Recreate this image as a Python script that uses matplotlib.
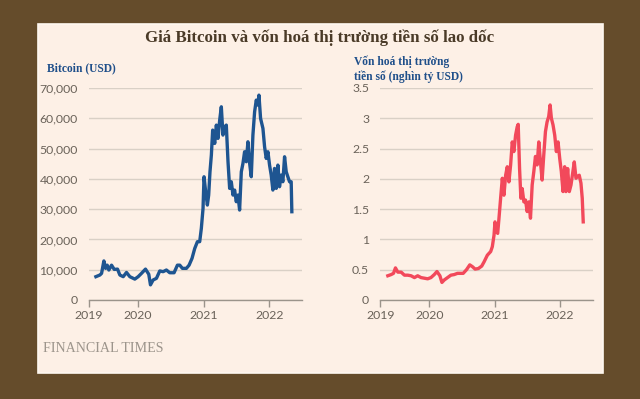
import matplotlib
matplotlib.use("Agg")
import matplotlib.pyplot as plt
from matplotlib.patches import Rectangle

# ---------------- data ----------------
btc_years = [2019.355, 2019.416, 2019.442, 2019.477, 2019.503, 2019.528, 2019.553, 2019.594,
             2019.635, 2019.685, 2019.721, 2019.772, 2019.822, 2019.873, 2019.949, 2020.000,
             2020.051, 2020.112, 2020.162, 2020.188, 2020.228, 2020.279, 2020.330, 2020.381,
             2020.431, 2020.482, 2020.548, 2020.599, 2020.635, 2020.675, 2020.736, 2020.777,
             2020.822, 2020.863, 2020.904, 2020.939, 2020.964, 2020.990, 2021.005, 2021.030,
             2021.056, 2021.076, 2021.096, 2021.117, 2021.137, 2021.168, 2021.193, 2021.218,
             2021.244, 2021.269, 2021.294, 2021.320, 2021.345, 2021.371, 2021.396, 2021.421,
             2021.447, 2021.472, 2021.497, 2021.523, 2021.548, 2021.574, 2021.599, 2021.624,
             2021.650, 2021.675, 2021.701, 2021.726, 2021.751, 2021.777, 2021.802, 2021.827,
             2021.843, 2021.868, 2021.904, 2021.929, 2021.954, 2021.980, 2022.005, 2022.030,
             2022.056, 2022.081, 2022.107, 2022.132, 2022.157, 2022.183, 2022.208, 2022.234,
             2022.259, 2022.284, 2022.310, 2022.335, 2022.345]
btc_price = [7700, 8250, 8800, 12900, 10450, 11500, 9900, 11500,
             10100, 10200, 8250, 7700, 9100, 7700, 6900, 7700,
             8800, 10200, 8500, 5000, 6600, 7150, 9600, 9350,
             9900, 9000, 9000, 11500, 11500, 10450, 10450, 11500,
             13750, 17000, 19250, 19250, 23650, 30250, 40700, 35750,
             31350, 34650, 42350, 47850, 56100, 51700, 57750, 53350,
             59400, 63800, 54450, 57200, 57750, 45650, 36850, 39050,
             34650, 36300, 32450, 34650, 29700, 42350, 45100, 48950,
             45650, 52250, 45100, 40700, 54450, 62150, 66000, 64350,
             67650, 59950, 56650, 50600, 46750, 48950, 44550, 41250,
             36300, 43450, 36850, 44550, 37400, 41250, 39050, 47300,
             42350, 40700, 39050, 39050, 29150]

mcap_years = [2019.365, 2019.416, 2019.452, 2019.482, 2019.518, 2019.569, 2019.619, 2019.670,
              2019.721, 2019.772, 2019.822, 2019.873, 2019.924, 2019.975, 2020.025, 2020.076,
              2020.117, 2020.162, 2020.193, 2020.228, 2020.279, 2020.330, 2020.381, 2020.431,
              2020.518, 2020.569, 2020.619, 2020.660, 2020.701, 2020.751, 2020.802, 2020.838,
              2020.888, 2020.939, 2020.964, 2020.990, 2021.005, 2021.025, 2021.046, 2021.066,
              2021.091, 2021.117, 2021.142, 2021.168, 2021.193, 2021.218, 2021.244, 2021.269,
              2021.294, 2021.320, 2021.345, 2021.360, 2021.381, 2021.401, 2021.421, 2021.447,
              2021.472, 2021.497, 2021.523, 2021.548, 2021.574, 2021.599, 2021.624, 2021.650,
              2021.675, 2021.701, 2021.726, 2021.751, 2021.777, 2021.802, 2021.827, 2021.848,
              2021.868, 2021.893, 2021.919, 2021.944, 2021.970, 2021.995, 2022.020, 2022.046,
              2022.071, 2022.091, 2022.117, 2022.142, 2022.168, 2022.193, 2022.218, 2022.244,
              2022.269, 2022.294, 2022.320, 2022.340, 2022.355]
mcap_value = [0.40, 0.42, 0.44, 0.53, 0.46, 0.46, 0.41, 0.41,
              0.40, 0.37, 0.40, 0.37, 0.36, 0.35, 0.37, 0.42,
              0.47, 0.40, 0.29, 0.33, 0.37, 0.41, 0.42, 0.44,
              0.44, 0.50, 0.58, 0.55, 0.51, 0.52, 0.56, 0.63,
              0.74, 0.80, 0.88, 1.07, 1.29, 1.13, 1.10, 1.35,
              1.68, 2.01, 1.73, 2.06, 2.20, 1.95, 2.23, 2.61,
              2.45, 2.72, 2.86, 2.90, 2.17, 1.68, 1.84, 1.62,
              1.65, 1.46, 1.62, 1.35, 1.90, 2.12, 2.37, 2.23,
              2.61, 2.28, 1.98, 2.39, 2.78, 2.94, 3.03, 3.22,
              3.00, 2.89, 2.72, 2.45, 2.61, 2.34, 2.12, 1.79,
              2.20, 1.79, 2.17, 1.79, 1.90, 2.09, 2.28, 2.01,
              2.04, 2.06, 1.93, 1.68, 1.29]

btc_ticks = [0, 10000, 20000, 30000, 40000, 50000, 60000, 70000]
btc_ticklabels = ["0", "10,000", "20,000", "30,000", "40,000", "50,000", "60,000", "70,000"]
mcap_ticks = [0, 0.5, 1, 1.5, 2, 2.5, 3, 3.5]
mcap_ticklabels = ["0", "0.5", "1", "1.5", "2", "2.5", "3", "3.5"]
x_ticks = [2019.25, 2020.0, 2021.0, 2022.0]
x_ticklabels = ["2019", "2020", "2021", "2022"]

title = "Giá Bitcoin và vốn hoá thị trường tiền số lao dốc"
left_label = "Bitcoin (USD)"
right_label = "Vốn hoá thị trường\ntiền số (nghìn tỷ USD)"
source = "FINANCIAL TIMES"

# ---------------- style ----------------
W, H = 640, 399
BROWN = "#654c2b"
CREAM = "#fdf0e6"
GRID = "#d9d0c6"
AXIS = "#9b948b"
TICKTXT = "#6a6259"
BLUE = "#1e5591"
RED = "#f2495b"
TITLE = "#4a3a27"
LABEL_BLUE = "#1f4f8a"

fig = plt.figure(figsize=(W / 100, H / 100), dpi=100, facecolor=BROWN)

panel = Rectangle((38 / W, 1 - 373 / H), (603 - 38) / W, (373 - 24) / H,
                  transform=fig.transFigure, facecolor=CREAM, edgecolor="#fff8f0",
                  linewidth=1.2, zorder=-10)
fig.patches.append(panel)

tick_font = dict(family=["Lato", "DejaVu Sans"], size=8.8, color=TICKTXT)


def make_axes(left_px, right_px, x, y, color, yticks, yticklabels, ymax):
    ax = fig.add_axes([left_px / W, 1 - 300 / H, (right_px - left_px) / W, 212 / H])
    ax.set_zorder(5)
    ax.set_facecolor("none")
    ax.plot(x, y, color=color, lw=2.4, solid_joinstyle="round", zorder=3)
    ax.set_xlim(2019.25, 2022.5)
    ax.set_ylim(0, ymax)
    ax.set_yticks(yticks)
    ax.set_yticklabels(yticklabels, **tick_font)
    ax.set_xticks(x_ticks)
    ax.set_xticklabels(x_ticklabels, **tick_font)
    for s in ["top", "right", "left"]:
        ax.spines[s].set_visible(False)
    ax.spines["bottom"].set_color(AXIS)
    ax.spines["bottom"].set_linewidth(1.0)
    ax.tick_params(axis="y", length=0, pad=8)
    ax.tick_params(axis="x", length=5, width=1.0, color=AXIS, pad=2, direction="out")
    ax.yaxis.grid(True, color=GRID, lw=1.0)
    ax.set_axisbelow(True)
    ax.xaxis.grid(False)
    return ax


ax1 = make_axes(89, 302, btc_years, btc_price, BLUE, btc_ticks, btc_ticklabels, 70000)
ax2 = make_axes(380.3, 592.7, mcap_years, mcap_value, RED, mcap_ticks, mcap_ticklabels, 3.5)

serif = ["Liberation Serif", "DejaVu Serif"]
fig.text(320 / W, 1 - 38 / H, title, ha="center", va="center", family=serif,
         weight="bold", size=12.2, color=TITLE)
fig.text(47 / W, 1 - 68 / H, left_label, ha="left", va="center", family=serif,
         weight="bold", size=8.3, color=LABEL_BLUE)
fig.text(354 / W, 1 - 69 / H, right_label, ha="left", va="center", family=serif,
         weight="bold", size=8.3, color=LABEL_BLUE, linespacing=1.3)
fig.text(43 / W, 1 - 349 / H, source, ha="left", va="center", family=serif,
         size=10.1, color="#9d958c")

fig.savefig("out.png", dpi=100, facecolor=BROWN)
